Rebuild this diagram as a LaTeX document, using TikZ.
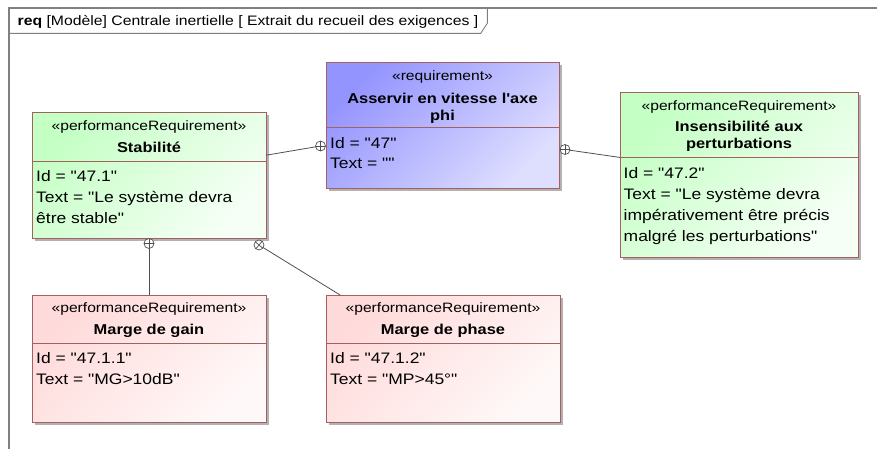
\documentclass[tikz,border=0pt]{standalone}
\usepackage{fontspec}
\setmainfont{Liberation Sans}[FakeStretch=1.15,Ligatures=TeXOff]
\usetikzlibrary{shadows,calc}
\definecolor{bordc}{RGB}{165,95,95}
\definecolor{greenA}{RGB}{196,255,196}
\definecolor{greenB}{RGB}{246,255,246}
\definecolor{blueA}{RGB}{148,148,255}
\definecolor{blueB}{RGB}{222,222,255}
\definecolor{pinkA}{RGB}{255,218,218}
\definecolor{pinkB}{RGB}{255,248,248}
\definecolor{framec}{RGB}{128,128,128}
\definecolor{linec}{RGB}{80,80,80}
\begin{document}
\begin{tikzpicture}[x=1pt,y=-1pt,
  reqbox/.style={draw=bordc, line width=0.9pt, rectangle, inner sep=0pt, outer sep=0pt, anchor=north west,
    drop shadow={shadow xshift=3pt, shadow yshift=-3pt, fill=black!30, opacity=1}},
  greenbox/.style={reqbox, top color=greenA, bottom color=greenB, shading angle=45},
  bluebox/.style={reqbox, top color=blueA, bottom color=blueB, shading angle=45},
  pinkbox/.style={reqbox, top color=pinkA, bottom color=pinkB, shading angle=45},
  sepline/.style={draw=bordc, line width=0.9pt},
  stereo/.style={font=\fontsize{13.6}{16}\selectfont, inner sep=0pt, anchor=base},
  rname/.style={font=\fontsize{14.3}{17}\selectfont\bfseries, inner sep=0pt, anchor=base},
  body/.style={font=\fontsize{15.2}{21}\selectfont, inner sep=0pt, anchor=base west},
  conn/.style={draw=linec, line width=0.8pt},
  contain/.style={circle, draw=linec, fill=white, minimum size=10pt, inner sep=0pt, line width=0.7pt,
    path picture={\draw[linec, line width=0.7pt]
      ($(path picture bounding box.center)+(#1:5)$) -- ($(path picture bounding box.center)+(#1+180:5)$)
      ($(path picture bounding box.center)+(#1+90:5)$) -- ($(path picture bounding box.center)+(#1+270:5)$);}},
  contain/.default=0,
  framel/.style={draw=framec, line width=1.5pt},
  tabl/.style={draw=framec, line width=0.9pt}
]
\useasboundingbox[fill=white] (0,0) rectangle (877,448);

% frame
\draw[framel] (9,452) -- (9,8) -- (880,8);
\draw[tabl] (9,33.3) -- (480.7,33.3) -- (487.3,23.3) -- (487.3,8);
\node[font=\fontsize{13.7}{16}\selectfont, inner sep=0pt, anchor=base west] (title) at (17.5,25.5)
  {\textbf{req} [Modèle] Centrale inertielle [ Extrait du recueil des exigences ]};

% boxes
\node[greenbox, minimum width=234pt, minimum height=126pt] (stab) at (32,112) {};
\node[bluebox, minimum width=233pt, minimum height=126pt] (ass) at (326,62) {};
\node[greenbox, minimum width=238pt, minimum height=165pt] (ins) at (620,92) {};
\node[pinkbox, minimum width=234pt, minimum height=127pt] (gain) at (32,295) {};
\node[pinkbox, minimum width=234pt, minimum height=127pt] (phase) at (326,295) {};

% separators
\draw[sepline] (32,161) -- (266,161);
\draw[sepline] (326,127) -- (559,127);
\draw[sepline] (620,157.3) -- (858,157.3);
\draw[sepline] (32,343) -- (266,343);
\draw[sepline] (326,343) -- (560,343);

% Stabilite
\node[stereo] (stabS) at (149,130) {«performanceRequirement»};
\node[rname] (stabN) at (149,152.3) {Stabilité};
\node[body] (stabB1) at (36,181.7) {Id = "47.1"};
\node[body] (stabB2) at (36,202.7) {Text = "Le système devra};
\node[body] (stabB3) at (36,223.7) {être stable"};

% Asservir
\node[stereo] (assS) at (442.5,80) {«requirement»};
\node[rname] (assN1) at (442.5,103.3) {Asservir en vitesse l'axe};
\node[rname] (assN2) at (442.5,120) {phi};
\node[body] (assB1) at (330,148.3) {Id = "47"};
\node[body] (assB2) at (330,168.3) {Text = ""};

% Insensibilite
\node[stereo] (insS) at (739,110) {«performanceRequirement»};
\node[rname] (insN1) at (739,131.7) {Insensibilité aux};
\node[rname] (insN2) at (739,148.3) {perturbations};
\node[body] (insB1) at (623.5,178.3) {Id = "47.2"};
\node[body] (insB2) at (623.5,199) {Text = "Le système devra};
\node[body] (insB3) at (623.5,220) {impérativement être précis};
\node[body] (insB4) at (623.5,241) {malgré les perturbations"};

% Marge de gain
\node[stereo] (gainS) at (149,312.8) {«performanceRequirement»};
\node[rname] (gainN) at (149,334.8) {Marge de gain};
\node[body] (gainB1) at (36,363.5) {Id = "47.1.1"};
\node[body] (gainB2) at (36,384.8) {Text = "MG>10dB"};

% Marge de phase
\node[stereo] (phaseS) at (443,312.8) {«performanceRequirement»};
\node[rname] (phaseN) at (443,334.8) {Marge de phase};
\node[body] (phaseB1) at (330,363.5) {Id = "47.1.2"};
\node[body] (phaseB2) at (330,384.8) {Text = "MP>45°"};

% containment connectors
\coordinate (c1p) at (320.5,146);
\coordinate (c2p) at (565,149.5);
\coordinate (c3p) at (149,243.5);
\coordinate (c4p) at (259,245);
\path[conn] (c1p) -- (stab);
\path[conn] (c2p) -- (ins);
\path[conn] (c3p) -- (gain);
\path[conn] (c4p) -- (phase);
\node[contain] (c1) at (c1p) {};
\node[contain] (c2) at (c2p) {};
\node[contain] (c3) at (c3p) {};
\node[contain=40] (c4) at (c4p) {};
\end{tikzpicture}
\end{document}
